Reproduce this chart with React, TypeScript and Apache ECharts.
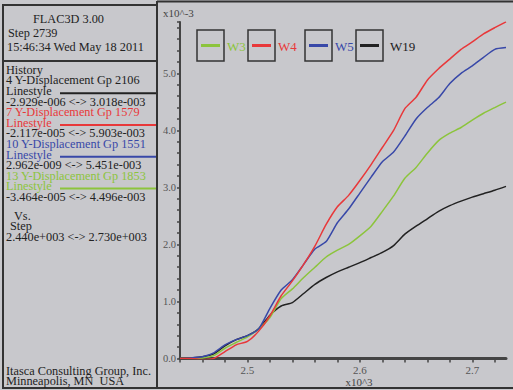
import React, { useEffect, useRef } from "react";
import * as echarts from "echarts";

// Step (x10^3)
const steps = [2.44, 2.45, 2.46, 2.47, 2.48, 2.49, 2.50, 2.51, 2.52, 2.53, 2.54, 2.55, 2.56, 2.57, 2.58, 2.59, 2.60, 2.61, 2.62, 2.63, 2.64, 2.65, 2.66, 2.67, 2.68, 2.69, 2.70, 2.71, 2.72, 2.73];
// Y-Displacement (x10^-3)
const W3 = [0, 0, 0.01, 0.05, 0.18, 0.28, 0.38, 0.52, 0.72, 1.05, 1.22, 1.42, 1.6, 1.78, 1.9, 2.0, 2.15, 2.32, 2.58, 2.85, 3.16, 3.35, 3.6, 3.82, 3.95, 4.05, 4.18, 4.3, 4.4, 4.496];
const W4 = [0, 0, -0.02, 0.0, 0.12, 0.24, 0.3, 0.48, 0.75, 1.1, 1.36, 1.65, 1.97, 2.35, 2.66, 2.86, 3.12, 3.4, 3.7, 4.0, 4.38, 4.58, 4.88, 5.08, 5.25, 5.42, 5.55, 5.69, 5.8, 5.903];
const W5 = [0, 0.01, 0.03, 0.1, 0.24, 0.33, 0.4, 0.52, 0.88, 1.2, 1.38, 1.65, 1.92, 2.05, 2.38, 2.62, 2.9, 3.18, 3.45, 3.62, 3.9, 4.2, 4.4, 4.57, 4.82, 5.0, 5.13, 5.28, 5.42, 5.451];
const W19 = [0, 0.01, 0.03, 0.08, 0.22, 0.33, 0.4, 0.52, 0.76, 0.92, 0.98, 1.14, 1.3, 1.42, 1.52, 1.6, 1.68, 1.77, 1.86, 1.98, 2.18, 2.32, 2.45, 2.58, 2.68, 2.76, 2.83, 2.89, 2.95, 3.018];

const seriesNames = ["W3", "W4", "W5", "W19"];
const seriesData = [W3, W4, W5, W19];
const seriesColors = ["#8cc43c", "#e8383a", "#3848a8", "#222222"];

const headerLines = ["FLAC3D 3.00", "Step 2739", "15:46:34 Wed May 18 2011"];
const historyLines: [string, string][] = [
  ["History", "#222222"],
  ["4 Y-Displacement Gp 2106", "#222222"],
  ["Linestyle", "#222222"],
  ["-2.929e-006 <-> 3.018e-003", "#222222"],
  ["7 Y-Displacement Gp 1579", "#e8383a"],
  ["Linestyle", "#e8383a"],
  ["-2.117e-005 <-> 5.903e-003", "#222222"],
  ["10 Y-Displacement Gp 1551", "#3848a8"],
  ["Linestyle", "#3848a8"],
  ["2.962e-009 <-> 5.451e-003", "#222222"],
  ["13 Y-Displacement Gp 1853", "#8cc43c"],
  ["Linestyle", "#8cc43c"],
  ["-3.464e-005 <-> 4.496e-003", "#222222"],
];
const vsLines = ["Vs.", "Step", "2.440e+003 <-> 2.730e+003"];
const footerLines = ["Itasca Consulting Group, Inc.", "Minneapolis, MN  USA"];

const FONT = "'Liberation Serif', 'DejaVu Serif', serif";
const BG = "#c8c8cc";
const DARK = "#333333";

export default function App() {
  const ref = useRef<HTMLDivElement>(null);
  useEffect(() => {
    if (!ref.current) return;
    const chart = echarts.init(ref.current, null, { renderer: "svg" });
    const graphics: any[] = [];
    // frames
    graphics.push({ type: "rect", shape: { x: 3, y: 5, width: 154, height: 383 }, style: { fill: "none", stroke: DARK, lineWidth: 2 }, z: 10 });
    graphics.push({ type: "line", shape: { x1: 157, y1: 1.5, x2: 513, y2: 1.5 }, style: { stroke: DARK, lineWidth: 2 }, z: 10 });
    graphics.push({ type: "line", shape: { x1: 157, y1: 388, x2: 513, y2: 388 }, style: { stroke: DARK, lineWidth: 2 }, z: 10 });
    graphics.push({ type: "line", shape: { x1: 157, y1: 1, x2: 157, y2: 389 }, style: { stroke: DARK, lineWidth: 2 }, z: 10 });
    graphics.push({ type: "line", shape: { x1: 3, y1: 61, x2: 157, y2: 61 }, style: { stroke: DARK, lineWidth: 2 }, z: 10 });

    const txt = (text: string, x: number, y: number, color: string, size = 11.5, align = "left", sx = 1.07) => ({
      type: "text",
      x,
      y,
      scaleX: sx,
      z: 10,
      style: { text, fill: color, font: `${size}px ${FONT}`, textAlign: align, textVerticalAlign: "middle" },
    });

    const headerY = [19, 33, 47];
    const headerX = [33, 8, 7];
    headerLines.forEach((t, i) => graphics.push(txt(t, headerX[i], headerY[i], "#222222")));

    historyLines.forEach(([t, c], i) => {
      const y = 70 + i * 10.6;
      graphics.push(txt(t, 6, y, c));
      if (t === "Linestyle") {
        graphics.push({ type: "line", shape: { x1: 60, y1: y + 2, x2: 156, y2: y + 2 }, style: { stroke: c, lineWidth: 2 }, z: 10 });
      }
    });
    const vsX = [14, 10, 6];
    vsLines.forEach((t, i) => graphics.push(txt(t, vsX[i], 216 + i * 10.6, "#222222")));
    footerLines.forEach((t, i) => graphics.push(txt(t, 6, 371 + i * 10.6, "#222222")));

    // axis units
    graphics.push(txt("x10^-3", 163, 13, "#444444", 11, "left", 1));
    graphics.push(txt("x10^3", 359, 382, "#444444", 11, "center", 1));

    // legend
    const boxX = [197, 248, 305, 356];
    seriesNames.forEach((n, i) => {
      const bx = boxX[i];
      graphics.push({ type: "rect", shape: { x: bx, y: 30, width: 27, height: 31 }, style: { fill: "none", stroke: DARK, lineWidth: 1.5 }, z: 10 });
      graphics.push({ type: "line", shape: { x1: bx + 4, y1: 45.5, x2: bx + 23, y2: 45.5 }, style: { stroke: seriesColors[i], lineWidth: 3 }, z: 10 });
      graphics.push(txt(n, bx + 30 + (n === "W19" ? 4 : 0), 46.5, seriesColors[i], 13, "left", 1));
    });

    const drawOrder = [3, 0, 2, 1];
    chart.setOption({
      animation: false,
      backgroundColor: BG,
      grid: { left: 180, right: 7, top: 22, bottom: 31.5 },
      xAxis: {
        type: "value",
        min: 2.44,
        max: 2.73,
        interval: 0.02,
        axisLine: { show: true, lineStyle: { color: "#444444", width: 3 } },
        axisTick: { show: true, length: 4, lineStyle: { color: "#444444", width: 1.5 } },
        splitLine: { show: false },
        axisLabel: {
          color: "#555555",
          fontFamily: FONT,
          fontSize: 11,
          margin: 6,
          showMinLabel: true,
          showMaxLabel: false,
          formatter: (v: number) => (Math.abs(v * 10 - Math.round(v * 10)) < 1e-6 && v > 2.45 ? v.toFixed(1) : ""),
        },
      },
      yAxis: {
        type: "value",
        min: 0,
        max: 5.9,
        interval: 1,
        axisLine: { show: true, lineStyle: { color: "#444444", width: 2 } },
        axisTick: { show: true, length: 3, lineStyle: { color: "#444444", width: 1.5 } },
        minorTick: { show: true, splitNumber: 5, length: 3, lineStyle: { color: "#444444", width: 1.5 } },
        splitLine: { show: false },
        axisLabel: { color: "#555555", fontFamily: FONT, fontSize: 10.5, margin: 4, showMaxLabel: false, formatter: (v: number) => v.toFixed(1) },
      },
      graphic: graphics,
      series: drawOrder.map((i) => ({
        type: "line",
        name: seriesNames[i],
        data: steps.map((s, k) => [s, seriesData[i][k]]),
        showSymbol: false,
        smooth: 0.2,
        lineStyle: { color: seriesColors[i], width: 1.5 },
        itemStyle: { color: seriesColors[i] },
      })),
    });
    return () => chart.dispose();
  }, []);
  return <div ref={ref} style={{ position: "fixed", left: 0, top: 0, width: 513, height: 390 }} />;
}
